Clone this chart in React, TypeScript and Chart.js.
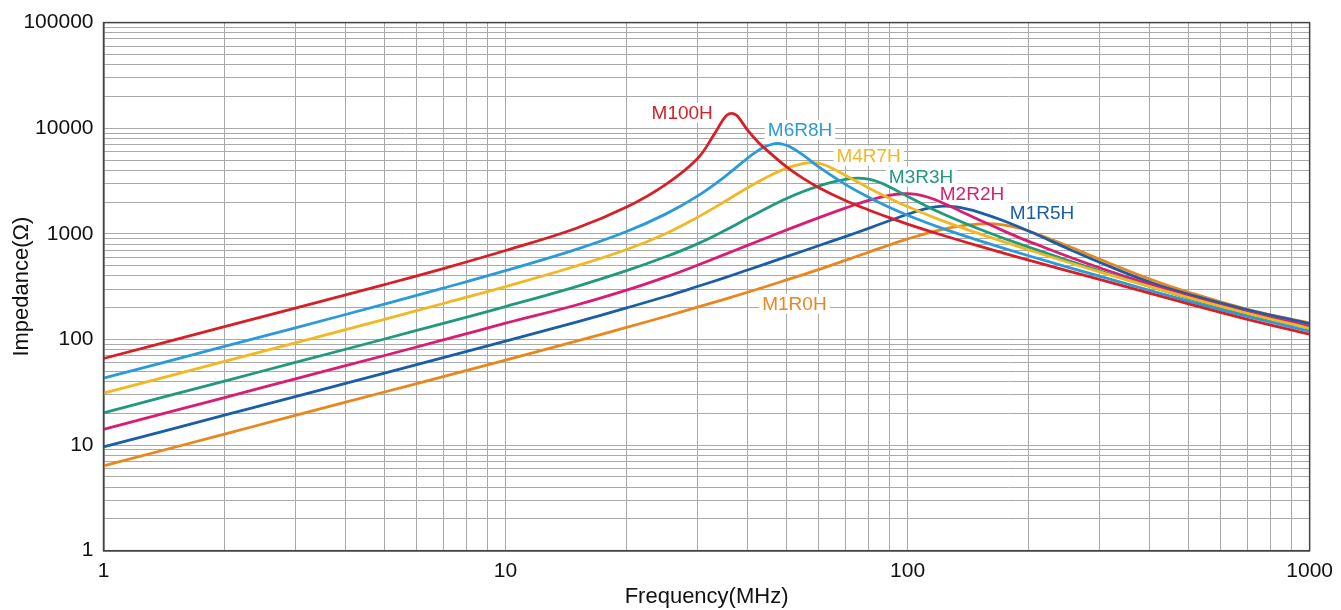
import { useEffect, useRef } from "react";
import { Chart, registerables } from "chart.js";

Chart.register(...registerables);

// ---- Data (frequency in MHz, impedance in Ohm) ----
const M100H_F = [1, 2, 3, 5, 7, 10, 15, 20, 25, 30, 33, 34.5, 35.5, 36.5, 37.5, 38.5, 40, 42.5, 45, 50, 55, 60, 70, 80, 90, 100, 120, 150, 200, 300, 500, 700, 1000];
const M100H_Z = [66, 132, 198, 331, 469, 695, 1130, 1791, 2926, 5148, 8700, 11508, 13274, 13840, 13290, 11810, 9568, 7373, 6036, 4308, 3346, 2751, 2069, 1682, 1423, 1238, 991, 769, 563, 371, 217, 155, 112];

const M6R8H_F = [1, 2, 3, 5, 7, 10, 15, 20, 25, 30, 35, 40, 42, 44, 46, 47.5, 49, 51, 55, 60, 70, 80, 90, 100, 120, 150, 200, 300, 500, 700, 1000];
const M6R8H_Z = [43, 86, 129, 216, 306, 448, 713, 1052, 1537, 2275, 3447, 5216, 5980, 6625, 7050, 7164, 7053, 6668, 5563, 4321, 2940, 2221, 1786, 1500, 1152, 868, 620, 397, 231, 165, 120];

const M4R7H_F = [1, 2, 3, 5, 7, 10, 15, 20, 25, 30, 35, 40, 45, 50, 54, 58, 62, 66, 70, 80, 90, 100, 120, 150, 200, 300, 500, 700, 1000];
const M4R7H_Z = [31, 62, 93, 155, 219, 317, 496, 710, 1003, 1432, 2010, 2733, 3499, 4187, 4556, 4722, 4506, 4051, 3580, 2723, 2177, 1810, 1364, 1009, 705, 437, 249, 177, 127];

const M3R3H_F = [1, 2, 3, 5, 7, 10, 15, 20, 25, 30, 35, 40, 45, 50, 55, 60, 65, 70, 75, 80, 85, 90, 100, 110, 120, 150, 200, 300, 500, 700, 1000];
const M3R3H_Z = [20.2, 40.4, 60.6, 101, 142, 205, 317, 448, 606, 804, 1069, 1405, 1779, 2162, 2519, 2832, 3093, 3282, 3374, 3289, 3077, 2792, 2261, 1877, 1598, 1119, 748, 447, 246, 173, 129];

const M2R2H_F = [1, 2, 3, 5, 7, 10, 15, 20, 25, 30, 35, 40, 45, 50, 60, 70, 80, 90, 98, 105, 112, 120, 135, 150, 175, 200, 300, 500, 700, 1000];
const M2R2H_Z = [14.1, 28.2, 42.3, 70.5, 99, 142.5, 212, 293, 389, 504, 636, 778, 929, 1088, 1417, 1752, 2071, 2316, 2396, 2366, 2233, 2027, 1649, 1364, 1050, 848, 477, 256, 181, 133.5];

const M1R5H_F = [1, 2, 3, 5, 7, 10, 15, 20, 25, 30, 35, 40, 50, 60, 70, 80, 90, 100, 110, 117, 124, 132, 140, 150, 170, 200, 250, 300, 400, 500, 700, 1000];
const M1R5H_Z = [9.6, 19.2, 28.8, 48, 67.2, 96.3, 146, 199, 255, 317, 383, 455, 608, 771, 942, 1128, 1330, 1533, 1711, 1798, 1829, 1796, 1723, 1608, 1366, 1062, 727, 538, 349, 267, 191, 141];

const M1R0H_F = [1, 2, 3, 5, 7, 10, 15, 20, 25, 30, 40, 50, 60, 70, 80, 90, 100, 120, 140, 160, 180, 200, 250, 300, 400, 500, 700, 1000];
const M1R0H_Z = [6.36, 12.7, 19.1, 31.8, 44.5, 63.7, 96.3, 130, 165, 202, 280, 366, 459, 561, 670, 784, 895, 1084, 1207, 1248, 1184, 1065, 771, 576, 374, 280, 193, 143];

const SERIES_NAMES = ["M100H", "M6R8H", "M4R7H", "M3R3H", "M2R2H", "M1R5H", "M1R0H"];
const SERIES_F = [M100H_F, M6R8H_F, M4R7H_F, M3R3H_F, M2R2H_F, M1R5H_F, M1R0H_F];
const SERIES_Z = [M100H_Z, M6R8H_Z, M4R7H_Z, M3R3H_Z, M2R2H_Z, M1R5H_Z, M1R0H_Z];
const SERIES_COLORS = ["#d61f26", "#2a9bd8", "#f1b823", "#1f9a7e", "#d81d72", "#1a5ea6", "#e9871f"];

// label anchor positions (data coords: MHz, Ohm)
const LABEL_F = [27.5, 54, 80, 108, 144.6, 216, 52.3];
const LABEL_Z = [14000, 9620, 5495, 3480, 2420, 1600, 218];

const X_TICKS = [1, 10, 100, 1000];
const Y_TICKS = [1, 10, 100, 1000, 10000, 100000];

const FONT = "'Liberation Sans', Arial, Helvetica, sans-serif";

function logGridValues(min: number, max: number): number[] {
  const out: number[] = [];
  for (let p = min; p < max; p *= 10) {
    for (let m = 1; m <= 9; m++) out.push(p * m);
  }
  out.push(max);
  return out;
}

export default function App() {
  const ref = useRef<HTMLCanvasElement>(null);

  useEffect(() => {
    const canvas = ref.current;
    if (!canvas) return;

    const W = 1341;
    const H = 610;
    const plotLeft = 103.5;
    const plotTop = 21.7;
    const plotRight = 1313;
    const plotBottom = 550.7;

    const labelPlugin = {
      id: "seriesLabels",
      beforeDatasetsDraw(chart: any) {
        const ctx = chart.ctx;
        const xs = chart.scales.x;
        const ys = chart.scales.y;
        ctx.save();
        ctx.font = `19px ${FONT}`;
        ctx.textAlign = "center";
        ctx.textBaseline = "middle";
        SERIES_NAMES.forEach((name, i) => {
          const px = xs.getPixelForValue(LABEL_F[i]);
          const py = ys.getPixelForValue(LABEL_Z[i]);
          const w = ctx.measureText(name).width;
          ctx.fillStyle = "#ffffff";
          ctx.fillRect(px - w / 2 - 3, py - 10, w + 6, 20);
          ctx.fillStyle = SERIES_COLORS[i];
          ctx.fillText(name, px, py + 1);
        });
        ctx.restore();
      },
    };

    const framePlugin = {
      id: "frame",
      afterDatasetsDraw(chart: any) {
        const { ctx, chartArea } = chart;
        ctx.save();
        ctx.strokeStyle = "#444444";
        ctx.lineWidth = 1.5;
        ctx.strokeRect(chartArea.left, chartArea.top, chartArea.right - chartArea.left, chartArea.bottom - chartArea.top);
        ctx.restore();
      },
    };

    const chart = new Chart(canvas, {
      type: "line",
      data: {
        datasets: SERIES_NAMES.map((name, i) => ({
          label: name,
          data: SERIES_F[i].map((f, j) => ({ x: f, y: SERIES_Z[i][j] })),
          borderColor: SERIES_COLORS[i],
          backgroundColor: SERIES_COLORS[i],
          borderWidth: 2.8,
          pointRadius: 0,
          tension: 0.4,
          fill: false,
        })),
      },
      options: {
        responsive: false,
        animation: false,
        devicePixelRatio: 1,
        layout: { padding: { left: 0, top: plotTop, right: W - plotRight, bottom: 0 } },
        plugins: {
          legend: { display: false },
          tooltip: { enabled: false },
        },
        scales: {
          x: {
            type: "logarithmic",
            min: 1,
            max: 1000,
            afterBuildTicks(scale: any) {
              scale.ticks = logGridValues(1, 1000).map((v) => ({ value: v }));
            },
            afterFit(scale: any) {
              scale.height = H - plotBottom;
            },
            ticks: {
              autoSkip: false,
              maxRotation: 0,
              padding: 8,
              color: "#111111",
              font: { family: FONT, size: 21 },
              callback: (v: any) => (X_TICKS.includes(Number(v)) ? String(v) : ""),
            },
            grid: { color: "#a9a9a9", lineWidth: 1, drawTicks: false },
            border: { display: true, color: "#333333", width: 1.5 },
            title: {
              display: true,
              text: "Frequency(MHz)",
              color: "#111111",
              font: { family: FONT, size: 22 },
              padding: { top: 0, bottom: 0 },
            },
          },
          y: {
            type: "logarithmic",
            min: 1,
            max: 100000,
            afterBuildTicks(scale: any) {
              scale.ticks = logGridValues(1, 100000).map((v) => ({ value: v }));
            },
            afterFit(scale: any) {
              scale.width = plotLeft;
            },
            ticks: {
              autoSkip: false,
              padding: 10,
              color: "#111111",
              font: { family: FONT, size: 21 },
              callback: (v: any) => (Y_TICKS.includes(Number(v)) ? String(v) : ""),
            },
            grid: { color: "#a9a9a9", lineWidth: 1, drawTicks: false },
            border: { display: true, color: "#333333", width: 1.5 },
            title: {
              display: true,
              text: "Impedance(Ω)",
              color: "#111111",
              font: { family: FONT, size: 22 },
              padding: { top: 9, bottom: 0 },
            },
          },
        },
      },
      plugins: [labelPlugin, framePlugin],
    });

    return () => chart.destroy();
  }, []);

  return (
    <div style={{ position: "fixed", left: 0, top: 0, width: 1341, height: 610, background: "#ffffff" }}>
      <canvas ref={ref} width={1341} height={610} style={{ display: "block", width: 1341, height: 610 }} />
    </div>
  );
}
